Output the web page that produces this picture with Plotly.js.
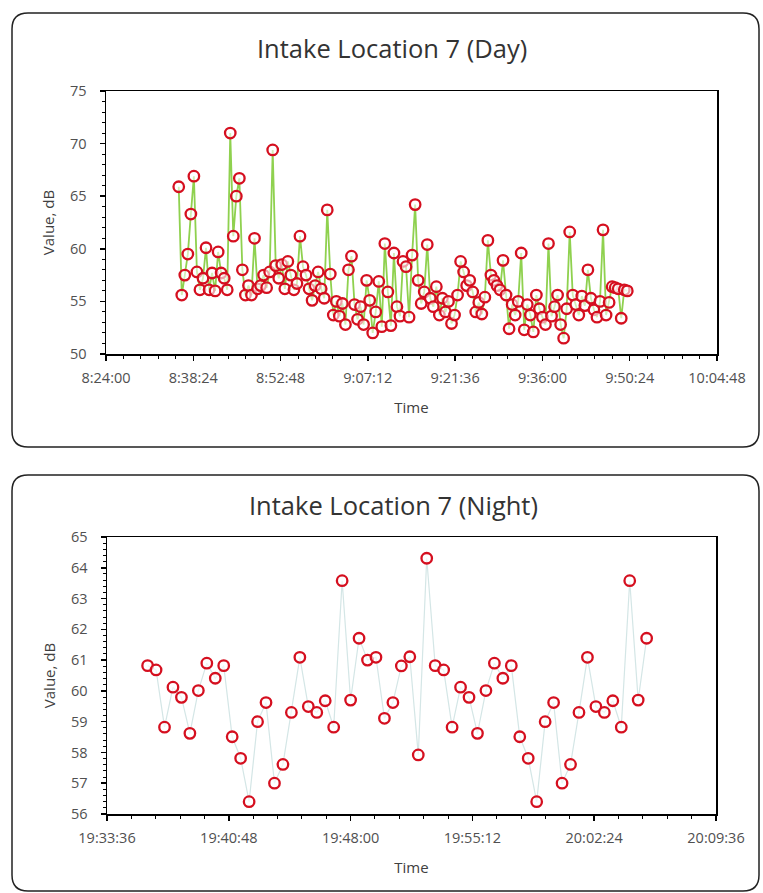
<!DOCTYPE html>
<html><head><meta charset="utf-8">
<script src="https://cdn.plot.ly/plotly-3.0.1.min.js"></script>
<style>html,body{margin:0;padding:0;background:#fff}#chart{width:763px;height:893px}</style>
</head><body><div id="chart"></div>
<script>
// ---------- DATA ----------
const dayTitle = 'Intake Location 7 (Day)';
const nightTitle = 'Intake Location 7 (Night)';
const yTitle = 'Value, dB';
const xTitle = 'Time';

const dayTimes = [
"8:36:00","8:36:30","8:37:00","8:37:30","8:38:00","8:38:30","8:39:00","8:39:30","8:40:00","8:40:30",
"8:41:00","8:41:30","8:42:00","8:42:30","8:43:00","8:43:30","8:44:00","8:44:30","8:45:00","8:45:30",
"8:46:00","8:46:30","8:47:00","8:47:30","8:48:00","8:48:30","8:49:00","8:49:30","8:50:00","8:50:30",
"8:51:00","8:51:30","8:52:00","8:52:30","8:53:00","8:53:30","8:54:00","8:54:30","8:55:00","8:55:30",
"8:56:00","8:56:30","8:57:00","8:57:30","8:58:00","8:58:30","8:59:00","8:59:30","9:00:00","9:00:30",
"9:01:00","9:01:30","9:02:00","9:02:30","9:03:00","9:03:30","9:04:00","9:04:30","9:05:00","9:05:30",
"9:06:00","9:06:30","9:07:00","9:07:30","9:08:00","9:08:30","9:09:00","9:09:30","9:10:00","9:10:30",
"9:11:00","9:11:30","9:12:00","9:12:30","9:13:00","9:13:30","9:14:00","9:14:30","9:15:00","9:15:30",
"9:16:00","9:16:30","9:17:00","9:17:30","9:18:00","9:18:30","9:19:00","9:19:30","9:20:00","9:20:30",
"9:21:00","9:21:30","9:22:00","9:22:30","9:23:00","9:23:30","9:24:00","9:24:30","9:25:00","9:25:30",
"9:26:00","9:26:30","9:27:00","9:27:30","9:28:00","9:28:30","9:29:00","9:29:30","9:30:00","9:30:30",
"9:31:00","9:31:30","9:32:00","9:32:30","9:33:00","9:33:30","9:34:00","9:34:30","9:35:00","9:35:30",
"9:36:00","9:36:30","9:37:00","9:37:30","9:38:00","9:38:30","9:39:00","9:39:30","9:40:00","9:40:30",
"9:41:00","9:41:30","9:42:00","9:42:30","9:43:00","9:43:30","9:44:00","9:44:30","9:45:00","9:45:30",
"9:46:00","9:46:30","9:47:00","9:47:30","9:48:00","9:48:30","9:49:00","9:49:30","9:50:00"
];
const dayValues = [
65.9,55.6,57.5,59.5,63.3,66.9,57.8,56.1,57.2,60.1,
56.1,57.7,56.0,59.7,57.7,57.2,56.1,71.0,61.2,65.0,
66.7,58.0,55.6,56.5,55.6,61.0,56.2,56.5,57.5,56.3,
57.8,69.4,58.4,57.2,58.5,56.2,58.8,57.5,56.1,56.7,
61.2,58.3,57.5,56.2,55.1,56.5,57.8,56.2,55.3,63.7,
57.6,53.7,55.0,53.6,54.8,52.8,58.0,59.3,54.7,53.3,
54.5,52.8,57.0,55.1,52.0,54.0,56.9,52.6,60.5,55.9,
52.7,59.6,54.5,53.6,58.8,58.3,53.5,59.4,64.2,57.0,
54.8,55.9,60.4,55.3,54.5,56.4,53.7,55.3,54.0,55.0,
52.9,53.7,55.6,58.8,57.8,56.5,57.0,55.9,54.0,54.9,
53.8,55.4,60.8,57.5,57.0,56.5,56.1,58.9,55.6,52.4,
54.7,53.7,55.0,59.6,52.3,54.7,53.7,52.1,55.6,54.3,
53.5,52.8,60.5,53.6,54.5,55.6,52.8,51.5,54.3,61.6,
55.6,54.7,53.7,55.5,54.6,58.0,55.3,54.2,53.5,55.0,
61.8,53.7,54.9,56.4,56.3,56.2,53.4,56.1,56.0
];

const nightTimes = [
"19:36:00","19:36:30","19:37:00","19:37:30","19:38:00","19:38:30","19:39:00","19:39:30","19:40:00","19:40:30",
"19:41:00","19:41:30","19:42:00","19:42:30","19:43:00","19:43:30","19:44:00","19:44:30","19:45:00","19:45:30",
"19:46:00","19:46:30","19:47:00","19:47:30","19:48:00","19:48:30","19:49:00","19:49:30","19:50:00","19:50:30",
"19:51:00","19:51:30","19:52:00","19:52:30","19:53:00","19:53:30","19:54:00","19:54:30","19:55:00","19:55:30",
"19:56:00","19:56:30","19:57:00","19:57:30","19:58:00","19:58:30","19:59:00","19:59:30","20:00:00","20:00:30",
"20:01:00","20:01:30","20:02:00","20:02:30","20:03:00","20:03:30","20:04:00","20:04:30","20:05:00","20:05:30"
];
const nightValues = [
60.82,60.68,58.82,60.12,59.79,58.62,60.01,60.90,60.41,60.82,
58.51,57.81,56.40,59.00,59.62,57.00,57.61,59.30,61.09,59.49,
59.30,59.68,58.82,63.58,59.70,61.71,61.00,61.09,59.11,59.62,
60.81,61.11,57.92,64.31,60.82,60.68,58.82,60.12,59.79,58.62,
60.01,60.90,60.41,60.82,58.51,57.81,56.40,59.00,59.62,57.00,
57.61,59.30,61.09,59.49,59.30,59.68,58.82,63.58,59.70,61.71
];

// axis settings
const dayRange = ["8:24:00","10:04:48"];
const nightRange = ["19:33:36","20:09:36"];
const dayYRange = [50,75];
const nightYRange = [56,65];

// ---------- RENDER ----------
const W = 763, H = 893;
const px = x => x / W;
const py = y => 1 - y / H;
function toDate(t){
  const p = t.split(':');
  return '2000-01-01 ' + p[0].padStart(2,'0') + ':' + p[1] + ':' + p[2];
}
function roundRect(x0,y0,x1,y1,r){
  const rx = r / W, ry = r / H;
  const X0 = px(x0), X1 = px(x1), Y0 = py(y0), Y1 = py(y1);
  return `M ${X0+rx},${Y0} L ${X1-rx},${Y0} Q ${X1},${Y0} ${X1},${Y0-ry} L ${X1},${Y1+ry} Q ${X1},${Y1} ${X1-rx},${Y1} L ${X0+rx},${Y1} Q ${X0},${Y1} ${X0},${Y1+ry} L ${X0},${Y0-ry} Q ${X0},${Y0} ${X0+rx},${Y0} Z`;
}

const FONT = 'Open Sans, sans-serif';
const tickFont = {family: FONT, size: 14.5, color: '#505050'};
const axTitleFont = {family: FONT, size: 15, color: '#404040'};
const markerStyle = {symbol: 'circle', size: 10.5, color: 'rgba(255,255,255,0.6)', line: {color: '#d50f1f', width: 2.3}};

const traces = [
  {x: dayTimes.map(toDate), y: dayValues, xaxis: 'x', yaxis: 'y', type: 'scatter', mode: 'lines+markers',
   line: {color: '#8fd14f', width: 1.8}, marker: markerStyle, showlegend: false, hoverinfo: 'x+y'},
  {x: nightTimes.map(toDate), y: nightValues, xaxis: 'x2', yaxis: 'y2', type: 'scatter', mode: 'lines+markers',
   line: {color: '#d4e6e6', width: 1.2}, marker: markerStyle, showlegend: false, hoverinfo: 'x+y'}
];

function xAxis(domain, range, dtick, minorDtick, fmt, anchor){
  return {
    domain: domain, anchor: anchor, type: 'date',
    range: range.map(toDate), tick0: toDate(range[0]), dtick: dtick, tickformat: fmt,
    ticks: 'outside', ticklen: 5, tickwidth: 1.5, tickcolor: '#000',
    minor: {dtick: minorDtick, ticks: 'outside', ticklen: 3, tickwidth: 1, tickcolor: '#000', showgrid: false},
    showline: true, linecolor: '#000', linewidth: 1.5, mirror: true,
    showgrid: false, zeroline: false, tickfont: tickFont, automargin: false,
    ticklabelstandoff: 5,
    title: {text: xTitle, font: axTitleFont, standoff: 16}
  };
}
function yAxis(domain, range, dtick, minorDtick, anchor){
  return {
    domain: domain, anchor: anchor, range: range, dtick: dtick,
    ticks: 'outside', ticklen: 5, tickwidth: 1.5, tickcolor: '#000',
    minor: {dtick: minorDtick, ticks: 'outside', ticklen: 3, tickwidth: 1, tickcolor: '#000', showgrid: false},
    showline: true, linecolor: '#000', linewidth: 1.5, mirror: true,
    showgrid: false, zeroline: false, tickfont: tickFont, automargin: false,
    ticklabelstandoff: 10,
    title: {text: yTitle, font: axTitleFont, standoff: 12}
  };
}

const layout = {
  width: W, height: H,
  margin: {l: 0, r: 0, t: 0, b: 0},
  paper_bgcolor: '#fff', plot_bgcolor: '#fff',
  showlegend: false,
  xaxis: xAxis([px(106), px(717)], dayRange, 864000, 172800, '%-H:%M:%S', 'y'),
  yaxis: yAxis([py(354), py(91)], dayYRange, 5, 1, 'x'),
  xaxis2: xAxis([px(107), px(716)], nightRange, 432000, 86400, '%H:%M:%S', 'y2'),
  yaxis2: yAxis([py(814), py(537)], nightYRange, 1, 0.2, 'x2'),
  annotations: [
    {text: dayTitle, xref: 'paper', yref: 'paper', x: px(392), y: py(48), showarrow: false,
     xanchor: 'center', yanchor: 'middle', font: {family: FONT, size: 25.5, color: '#333'}},
    {text: nightTitle, xref: 'paper', yref: 'paper', x: px(393), y: py(505), showarrow: false,
     xanchor: 'center', yanchor: 'middle', font: {family: FONT, size: 25.5, color: '#333'}}
  ],
  shapes: [
    {type: 'path', xref: 'paper', yref: 'paper', path: roundRect(12, 13, 759, 447, 16), line: {color: '#222', width: 1.5}},
    {type: 'path', xref: 'paper', yref: 'paper', path: roundRect(12, 475, 759, 891, 16), line: {color: '#222', width: 1.5}}
  ]
};

Plotly.newPlot('chart', traces, layout, {displayModeBar: false, staticPlot: true});
</script>
</body></html>
